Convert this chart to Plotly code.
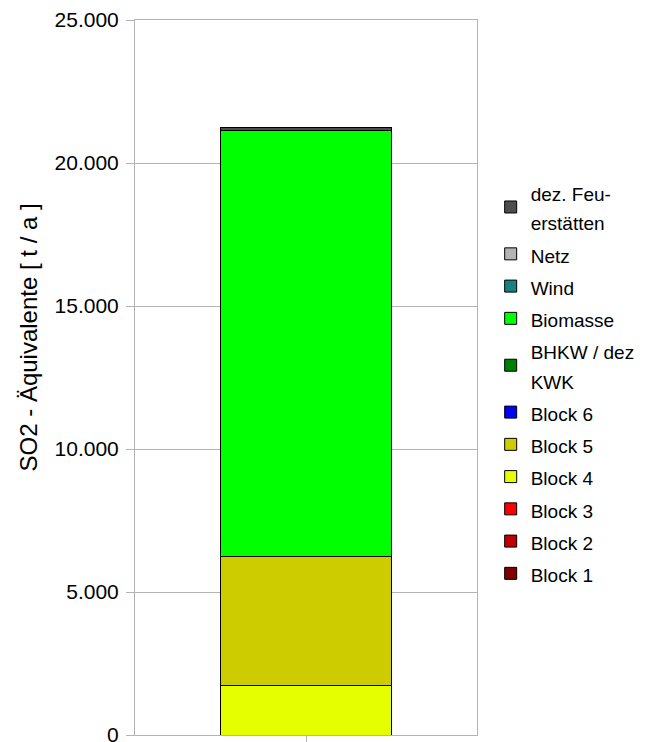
import plotly.graph_objects as go

categories = [""]
series_names = ["Block 1", "Block 2", "Block 3", "Block 4", "Block 5", "Block 6",
                "BHKW / dez<br>KWK", "Biomasse", "Wind", "Netz", "dez. Feu-<br>erstätten"]
series_values = [0, 0, 0, 1740, 4510, 0, 0, 14880, 0, 0, 100]
series_colors = ["#800000", "#c00000", "#ff0000", "#e6ff00", "#cccc00", "#0000ff",
                 "#008000", "#00ff00", "#1a8080", "#b3b3b3", "#4d4d4d"]
tick_vals = [0, 5000, 10000, 15000, 20000, 25000]
tick_text = ["0", "5.000", "10.000", "15.000", "20.000", "25.000"]
y_title = "SO2 - Äquivalente [ t / a ]"


def legend_label(name):
    return "<br>".join('<span style="font-size:19px">%s</span>' % part
                       for part in name.split("<br>"))


fig = go.Figure()
for name, val, col in zip(series_names, series_values, series_colors):
    fig.add_trace(go.Bar(x=categories, y=[val], name=legend_label(name), marker_color=col,
                         marker_line=dict(color="#000000", width=1), width=0.5))

fig.update_layout(
    width=639, height=734, barmode="stack",
    margin=dict(l=127, r=167, t=12, b=7),
    plot_bgcolor="white", paper_bgcolor="white",
    font=dict(family="Liberation Sans, Arial", size=21, color="#000000"),
    legend=dict(traceorder="reversed", x=1.04, xanchor="left", y=0.7885, yanchor="top",
                font=dict(size=22.5), bgcolor="rgba(0,0,0,0)"),
    bargap=0.5,
    annotations=[dict(text=y_title, textangle=-90, xref="paper", yref="paper",
                      x=-0.3116, y=0.5566, xanchor="center", yanchor="middle",
                      showarrow=False, font=dict(size=24))],
)
fig.update_yaxes(range=[0, 25000], tickvals=tick_vals, ticktext=tick_text,
                 tickfont=dict(size=21), automargin=False, ticklabeloverflow="allow",
                 ticklabelstandoff=3,
                 showgrid=True, gridcolor="#b3b3b3", gridwidth=1,
                 showline=True, linecolor="#b3b3b3", mirror=True,
                 ticks="outside", ticklen=8, tickcolor="#b3b3b3",
                 zeroline=False)
fig.update_xaxes(showline=True, linecolor="#b3b3b3", mirror=True, automargin=False,
                 ticks="outside", ticklen=6, tickcolor="#b3b3b3", showticklabels=False)

fig.write_html("out.html")
